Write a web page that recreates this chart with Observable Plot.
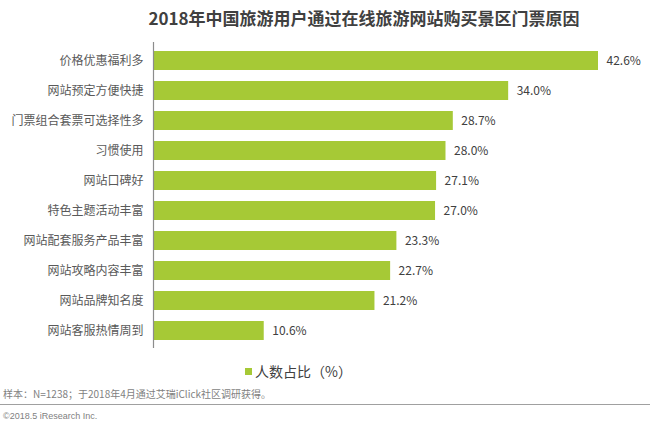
<!DOCTYPE html>
<html><head><meta charset="utf-8">
<script src="https://cdn.jsdelivr.net/npm/d3@7"></script>
<script src="https://cdn.jsdelivr.net/npm/@observablehq/plot@0.6"></script>
<style>
body{margin:0;background:#fff;font-family:"Noto Sans CJK SC","Noto Sans",sans-serif;}
#wrap{position:relative;width:650px;height:426px;overflow:hidden;}
.abs{position:absolute;white-space:nowrap;}
</style></head>
<body><div id="wrap">
<div class="abs" id="title" style="left:0;width:728px;top:6px;text-align:center;font-size:17px;font-weight:bold;color:#404040;line-height:24px;">2018年中国旅游用户通过在线旅游网站购买景区门票原因</div>
<div id="chart" class="abs" style="left:0;top:36px;"></div>
<div class="abs" style="left:245px;top:361px;font-size:14px;color:#404040;line-height:20px;"><span style="display:inline-block;width:7px;height:7px;background:#a6c936;margin-right:3px;vertical-align:2px;"></span>人数占比（%）</div>
<div class="abs" style="left:3px;top:386px;font-size:10px;color:#7f7f7f;line-height:16px;">样本：N=1238；于2018年4月通过艾瑞iClick社区调研获得。</div>
<div class="abs" style="left:0;top:404px;width:650px;height:1px;background:#a0a0a0;"></div>
<div class="abs" style="left:3px;top:409px;font-size:9px;color:#7f7f7f;line-height:14px;font-family:'Liberation Sans',Arial,sans-serif;">©2018.5 iResearch Inc.</div>
</div>
<script>
const categories = ["价格优惠福利多","网站预定方便快捷","门票组合套票可选择性多","习惯使用","网站口碑好","特色主题活动丰富","网站配套服务产品丰富","网站攻略内容丰富","网站品牌知名度","网站客服热情周到"];
const values = [42.6,34.0,28.7,28.0,27.1,27.0,23.3,22.7,21.2,10.6];
const data = categories.map((c,i)=>({cat:c, v:values[i]}));
const chart = Plot.plot({
  width:650, height:312,
  marginLeft:153, marginRight:52, marginTop:6, marginBottom:0,
  style:{fontFamily:'"Noto Sans CJK SC",sans-serif', fontSize:"12px", color:"#595959", background:"transparent"},
  x:{domain:[0,42.6], axis:null},
  y:{domain:categories, paddingInner:0.38, paddingOuter:0.18, label:null, tickSize:0, tickPadding:10},
  marks:[
    Plot.barX(data,{x:"v", y:"cat", fill:"#a6c936"}),
    Plot.ruleX([0],{stroke:"#8c8c8c", strokeWidth:1.2}),
    Plot.text(data,{x:"v", y:"cat", text:d=>d.v.toFixed(1)+"%", textAnchor:"start", dx:8, fontSize:12, fill:"#404040"}),
    Plot.axisY({tickSize:0, tickPadding:10, label:null, fontSize:12})
  ]
});
document.getElementById("chart").appendChild(chart);
</script>
</body></html>
